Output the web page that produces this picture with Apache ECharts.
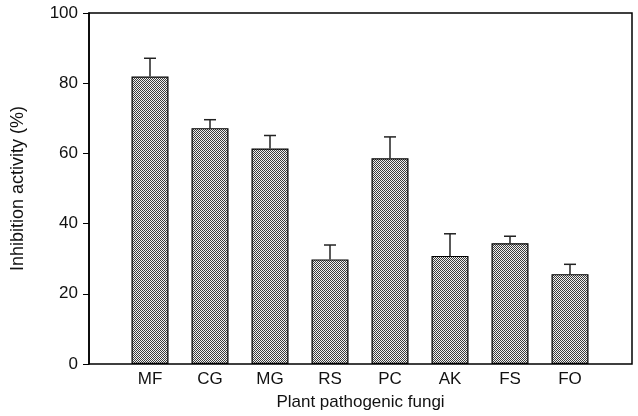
<!DOCTYPE html>
<html>
<head>
<meta charset="utf-8">
<script src="https://cdn.jsdelivr.net/npm/echarts@6/dist/echarts.min.js"></script>
<style>
  html, body { margin: 0; padding: 0; background: #fff; }
  #main { width: 638px; height: 416px; }
</style>
</head>
<body>
<div id="main"></div>
<script>
const fungi = ['MF', 'CG', 'MG', 'RS', 'PC', 'AK', 'FS', 'FO'];
const inhibition = [81.9, 67.2, 61.4, 29.8, 58.6, 30.8, 34.4, 25.6];
const errUpper = [5.2, 2.4, 3.7, 4.1, 6.1, 6.3, 2.0, 2.8];
const yTicks = [0, 20, 40, 60, 80, 100];

// stippled grey fill like the printed bars (1px checker)
function makePattern() {
    const c = document.createElement('canvas');
    c.width = 2;
    c.height = 2;
    const ctx = c.getContext('2d');
    ctx.fillStyle = '#f2f2f2';
    ctx.fillRect(0, 0, 2, 2);
    ctx.fillStyle = '#3c3c3c';
    ctx.fillRect(0, 0, 1, 1);
    ctx.fillRect(1, 1, 1, 1);
    return c;
}

const font = 'Liberation Sans, Arial, sans-serif';
const chart = echarts.init(document.getElementById('main'));

const option = {
    animation: false,
    backgroundColor: '#fff',
    grid: [
        { left: 89, right: 6, top: 13, bottom: 52, show: true, borderColor: '#000', borderWidth: 1.5 },
        { left: 120, right: 38, top: 13, bottom: 52 }
    ],
    xAxis: [
        {
            gridIndex: 0, type: 'value', min: 0, max: 1,
            axisLine: { show: false }, axisTick: { show: false },
            axisLabel: { show: false }, splitLine: { show: false },
            name: 'Plant pathogenic fungi', nameLocation: 'middle', nameGap: 30,
            nameTextStyle: { fontFamily: font, fontSize: 17, color: '#111' }
        },
        {
            gridIndex: 1, type: 'category', data: fungi,
            axisLine: { show: false }, axisTick: { show: false },
            axisLabel: { fontFamily: font, fontSize: 17, color: '#111', margin: 7 }
        }
    ],
    yAxis: [
        {
            gridIndex: 0, type: 'value', min: 0, max: 100, interval: 20,
            axisLine: { show: true, lineStyle: { color: '#000', width: 1.5 } },
            axisTick: { show: true, inside: false, length: 6, lineStyle: { color: '#000' } },
            axisLabel: {
                fontFamily: font, fontSize: 17, color: '#111', margin: 11,
                formatter: v => yTicks.includes(v) ? String(v) : ''
            },
            splitLine: { show: false },
            name: 'Inhibition activity (%)', nameLocation: 'middle', nameGap: 62,
            nameTextStyle: { fontFamily: font, fontSize: 18, color: '#111' }
        },
        {
            gridIndex: 1, type: 'value', min: 0, max: 100, show: false
        }
    ],
    series: [
        {
            type: 'bar',
            xAxisIndex: 1, yAxisIndex: 1,
            data: inhibition,
            barWidth: 37,
            itemStyle: {
                color: { image: makePattern(), repeat: 'repeat' },
                borderColor: '#000',
                borderWidth: 1.2
            },
            z: 2
        },
        {
            type: 'custom',
            xAxisIndex: 1, yAxisIndex: 1,
            data: inhibition.map((v, i) => [i, v, v + errUpper[i]]),
            renderItem: (params, api) => {
                const base = api.coord([api.value(0), api.value(1)]);
                const top = api.coord([api.value(0), api.value(2)]);
                const cap = 6;
                const style = { stroke: '#222', lineWidth: 1.5 };
                return {
                    type: 'group',
                    children: [
                        { type: 'line', shape: { x1: top[0], y1: top[1], x2: base[0], y2: base[1] }, style },
                        { type: 'line', shape: { x1: top[0] - cap, y1: top[1], x2: top[0] + cap, y2: top[1] }, style }
                    ]
                };
            },
            z: 3
        }
    ]
};

chart.setOption(option);
</script>
</body>
</html>
